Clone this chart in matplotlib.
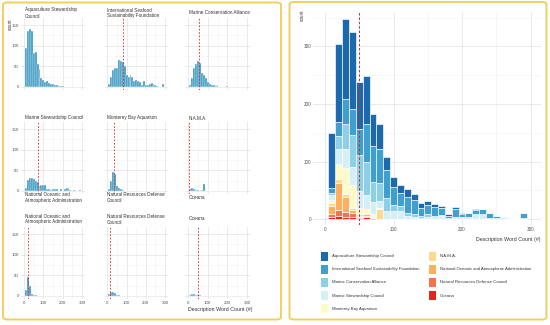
import matplotlib
matplotlib.use("Agg")
import matplotlib.pyplot as plt
from matplotlib.patches import FancyBboxPatch, Rectangle
import numpy as np

W, H = 550, 325
plt.rcParams['font.family'] = ['Liberation Sans', 'DejaVu Sans']

# histogram bins (centres, word count), binwidth 10
bins = list(range(10, 300, 10))

groups = ['Aquaculture Stewardship Council',
          'International Seafood Sustainability Foundation',
          'Marine Conservation Alliance',
          'Marine Stewardship Council',
          'Monterey Bay Aquarium',
          'N.A.M.A.',
          'National Oceanic and Atmospheric Administration',
          'Natural Resources Defense Council',
          'Oceana']
facet_titles = ['Aquaculture Stewardship\nCouncil',
                'International Seafood\nSustainability Foundation',
                'Marine Conservation Alliance',
                'Marine Stewardship Council',
                'Monterey Bay Aquarium',
                'N.A.M.A.',
                'National Oceanic and\nAtmospheric Administration',
                'Natural Resources Defense\nCouncil',
                'Oceana']

# counts per bin
asc = [95, 135, 140, 135, 82, 84, 55, 44, 22, 18, 13, 14, 10, 8, 7, 5, 4, 2, 3, 2, 1, 1, 0, 0, 0, 0, 0, 0, 0]
issf = [8, 25, 42, 45, 45, 66, 62, 60, 50, 30, 24, 28, 25, 14, 16, 15, 12, 5, 14, 6, 6, 8, 10, 8, 5, 2, 1, 0, 8]
mca = [5, 22, 45, 56, 62, 58, 35, 30, 22, 11, 8, 4, 4, 3, 5, 1, 1, 0, 0, 2, 0, 0, 0, 0, 0, 0, 0, 0, 0]
msc = [8, 27, 32, 31, 29, 24, 22, 13, 14, 14, 14, 6, 4, 2, 4, 5, 6, 1, 4, 1, 4, 8, 8, 2, 1, 2, 1, 0, 2]
mba = [5, 25, 45, 40, 12, 8, 4, 2, 0, 0, 0, 0, 0, 0, 0, 0, 0, 0, 0, 0, 0, 0, 0, 0, 0, 0, 0, 0, 0]
nama = [5, 8, 6, 3, 2, 1, 2, 17, 0, 0, 0, 0, 0, 0, 0, 0, 0, 0, 0, 0, 0, 0, 0, 0, 0, 0, 0, 0, 0]
noaa = [14, 47, 25, 5, 2, 2, 1, 0, 0, 0, 0, 0, 0, 0, 0, 0, 0, 0, 0, 0, 0, 0, 0, 0, 0, 0, 0, 0, 0]
nrdc = [6, 10, 9, 8, 2, 3, 0, 0, 0, 0, 0, 0, 0, 0, 0, 0, 0, 0, 0, 0, 0, 0, 0, 0, 0, 0, 0, 0, 0]
oceana = [3, 5, 4, 3, 2, 3, 1, 0, 0, 0, 0, 0, 0, 0, 0, 0, 0, 0, 0, 0, 0, 0, 0, 0, 0, 0, 0, 0, 0]
series = [asc, issf, mca, msc, mba, nama, noaa, nrdc, oceana]

# dashed reference line per facet (None = not visible) and for the pooled plot
facet_lines = [None, 80, 55, 72, 35, 7, 22, 13, 49]
overall_line = 50

colors = ['#1c6aad', '#3f9fcf', '#8dcfe6', '#d5eff7', '#fffac8',
          '#fed98c', '#fdae5f', '#f6724a', '#e8221c']
facet_color = '#2a8fbd'
grid_major = '#e2e2e2'
grid_minor = '#f1f1f1'
txt = '#333333'


def px_ax(fig, l, t, r, b):
    return fig.add_axes([l / W, 1 - b / H, (r - l) / W, (b - t) / H])


def style(ax, ysize):
    ax.set_axisbelow(True)
    ax.grid(which='major', color=grid_major, lw=0.5)
    ax.grid(which='minor', color=grid_minor, lw=0.4)
    for s in ax.spines.values():
        s.set_visible(False)
    ax.tick_params(which='both', length=0, labelsize=ysize,
                   labelcolor='#555555', pad=1.5)


fig = plt.figure(figsize=(W / 100, H / 100), dpi=100)

# yellow frames around the two panels
for (l, t, r, b) in [(3, 2.5, 281, 319.5), (289.5, 2, 546.5, 319.5)]:
    fig.add_artist(FancyBboxPatch((l / W, 1 - b / H), (r - l) / W, (b - t) / H,
                                  boxstyle='round,pad=0,rounding_size=0.008',
                                  transform=fig.transFigure, fill=False,
                                  ec='#f2cf5b', lw=1.4))

# ---- left: facet grid ----
col_px = [(21.1, 84.9), (104.6, 167.9), (185, 250)]
row_px = [(18, 90.3), (122, 194.3), (227, 299.3)]
title_x = [25, 107, 189]
title_y = [13, 118, 219]

for i, (vals, vl, title) in enumerate(zip(series, facet_lines, facet_titles)):
    r, c = divmod(i, 3)
    ax = px_ax(fig, col_px[c][0], row_px[r][0], col_px[c][1], row_px[r][1])
    ax.bar(bins, vals, width=10, color=facet_color, edgecolor='white', linewidth=0.3)
    ax.set_xlim(-15, 315)
    ax.set_ylim(-8, 167)
    ax.set_xticks([0, 100, 200, 300])
    ax.set_yticks([0, 50, 100, 150])
    ax.set_xticks([50, 150, 250], minor=True)
    ax.set_yticks([25, 75, 125], minor=True)
    style(ax, 3.2)
    ax.tick_params(labelleft=(c == 0), labelbottom=(r == 2))
    if vl is not None:
        ax.axvline(vl, color='#d62728', ls=(0, (2, 2)), lw=0.6)
    fig.text(title_x[c] / W, 1 - title_y[r] / H, title, fontsize=3.3,
             color=txt, va='center', ha='left', linespacing=1.25)
    if r == 2:
        # the strip labels of the last row also show up under the middle row
        fig.text(title_x[c] / W, 1 - 197.5 / H, title, fontsize=3.3,
                 color=txt, va='center', ha='left', linespacing=1.25)

fig.text(10 / W, 1 - 24 / H, 'count', rotation=90, fontsize=3.3,
         color=txt, va='center', ha='center')
fig.text(252 / W, 1 - 310 / H, 'Description Word Count (#)', fontsize=3.8,
         color=txt, va='center', ha='right')

# ---- right: stacked histogram ----
ax = px_ax(fig, 313.4, 12, 540.8, 224.75)
bottom = np.zeros(len(bins))
for vals, col in zip(series[::-1], colors[::-1]):
    ax.bar(bins, vals, bottom=bottom, width=10, color=col,
           edgecolor='white', linewidth=0.45)
    bottom += np.array(vals)
ax.set_xlim(-17, 315)
ax.set_ylim(-10, 360)
ax.set_xticks([0, 100, 200, 300])
ax.set_yticks([0, 100, 200, 300])
ax.set_xticks([50, 150, 250], minor=True)
ax.set_yticks([50, 150, 250, 350], minor=True)
style(ax, 3.3)
ax.axvline(overall_line, color='#d62728', ls=(0, (2.5, 2)), lw=0.7)

fig.text(302 / W, 1 - 15 / H, 'count', rotation=90, fontsize=3.3,
         color=txt, va='center', ha='center')
fig.text(541 / W, 1 - 239 / H, 'Description Word Count (#)', fontsize=3.8,
         color=txt, va='center', ha='right')

# legend, two columns (5 + 4)
for i, (name, col) in enumerate(zip(groups, colors)):
    cx, ry = divmod(i, 5)
    kx = [321, 429][cx]
    ky = 256 + ry * 13.2
    fig.add_artist(Rectangle((kx / W, 1 - (ky + 4.5) / H), 6.5 / W, 9 / H,
                             transform=fig.transFigure, color=col, lw=0))
    fig.text((kx + 11) / W, 1 - ky / H, name, fontsize=3.1, color=txt,
             va='center', ha='left')

fig.savefig('out.png', dpi=100)
